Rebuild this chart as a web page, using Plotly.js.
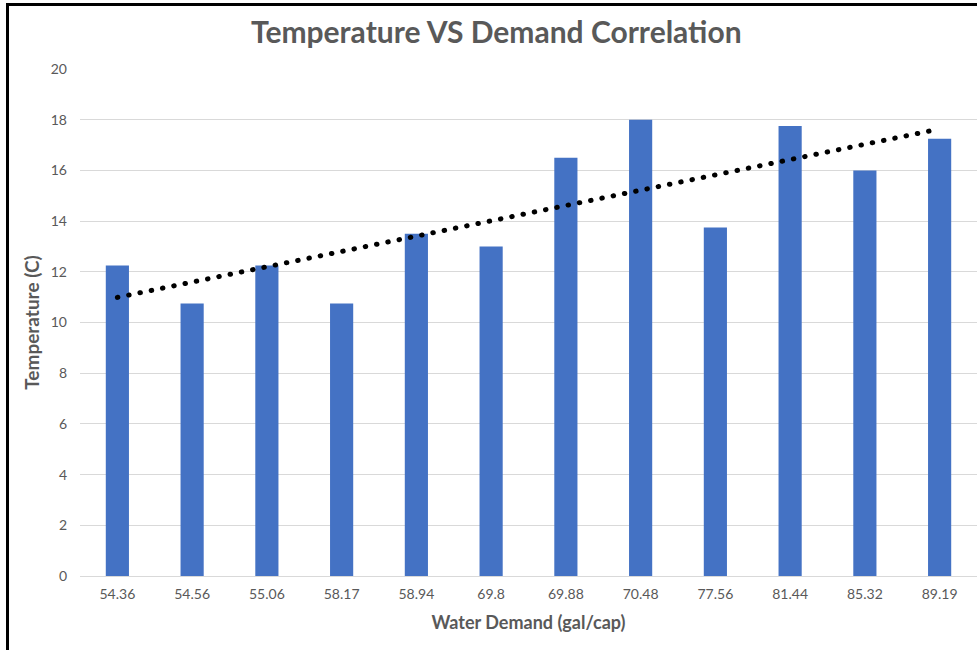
<!DOCTYPE html>
<html>
<head>
<meta charset="utf-8">
<script src="https://cdn.plot.ly/plotly-3.0.1.min.js"></script>
<style>
  html, body { margin: 0; padding: 0; background: #fff; }
  #wrap { position: relative; width: 977px; height: 650px; overflow: hidden; }
  #chart { position: absolute; left: 0; top: 0; width: 977px; height: 650px; }
  #frame { position: absolute; left: 6px; top: 3px; width: 990px; height: 700px;
           border-left: 3px solid #000; border-top: 3px solid #000; pointer-events: none; }
  .scatterlayer .js-line { stroke-linecap: round; }
</style>
</head>
<body>
<div id="wrap">
  <div id="chart"></div>
  <div id="frame"></div>
</div>
<script>
const categories = ["54.36", "54.56", "55.06", "58.17", "58.94", "69.8", "69.88", "70.48", "77.56", "81.44", "85.32", "89.19"];
const temperatures = [12.25, 10.75, 12.25, 10.75, 13.5, 13, 16.5, 18, 13.75, 17.75, 16, 17.25];
const yTicks = [0, 2, 4, 6, 8, 10, 12, 14, 16, 18, 20];

// Linear trendline (least squares against category index), as Excel does
const n = temperatures.length;
const idx = temperatures.map((_, i) => i + 1);
const mx = idx.reduce((a, b) => a + b, 0) / n;
const my = temperatures.reduce((a, b) => a + b, 0) / n;
let sxy = 0, sxx = 0;
for (let i = 0; i < n; i++) { sxy += (idx[i] - mx) * (temperatures[i] - my); sxx += (idx[i] - mx) ** 2; }
const slope = sxy / sxx, intercept = my - slope * mx;
const trend = idx.map(x => intercept + slope * x);

const gray = "#595959";
const font = "Lato, 'Open Sans', sans-serif";

const data = [
  { type: "bar", x: categories, y: temperatures, marker: { color: "#4472C4" }, hoverinfo: "x+y" },
  { type: "scatter", mode: "lines", x: categories, y: trend,
    line: { color: "#000", width: 5, dash: "0.5px,11px" }, hoverinfo: "skip" }
];

const layout = {
  width: 977, height: 650,
  margin: { l: 80, r: 0, t: 69, b: 74 },
  paper_bgcolor: "#fff", plot_bgcolor: "#fff",
  showlegend: false,
  bargap: 0.69,
  font: { family: font, color: gray, size: 14 },
  title: { text: "<b>Temperature VS Demand Correlation</b>", font: { family: font, size: 30, color: gray },
           x: 0.508, xanchor: "center", xref: "container", y: 0.95, yanchor: "middle", yref: "container" },
  xaxis: {
    type: "category", tickvals: categories, ticktext: categories,
    showgrid: false, zeroline: false, showline: false, ticks: "",
    tickfont: { family: font, size: 14, color: gray },
    ticklabelstandoff: 8,
    title: { text: "<b>Water Demand (gal/cap)</b>", font: { family: font, size: 18, color: gray }, standoff: 15 }
  },
  yaxis: {
    range: [0, 20], tickvals: yTicks, ticktext: yTicks.map(String),
    showgrid: true, gridcolor: "#d9d9d9", gridwidth: 1,
    zeroline: true, zerolinecolor: "#d9d9d9", zerolinewidth: 1,
    showline: false, ticks: "",
    tickfont: { family: font, size: 14, color: gray },
    ticklabelstandoff: 12,
    title: { text: "<b>Temperature (C)</b>", font: { family: font, size: 19, color: gray }, standoff: 6 }
  }
};

Plotly.newPlot("chart", data, layout, { displayModeBar: false, staticPlot: true });
</script>
</body>
</html>
